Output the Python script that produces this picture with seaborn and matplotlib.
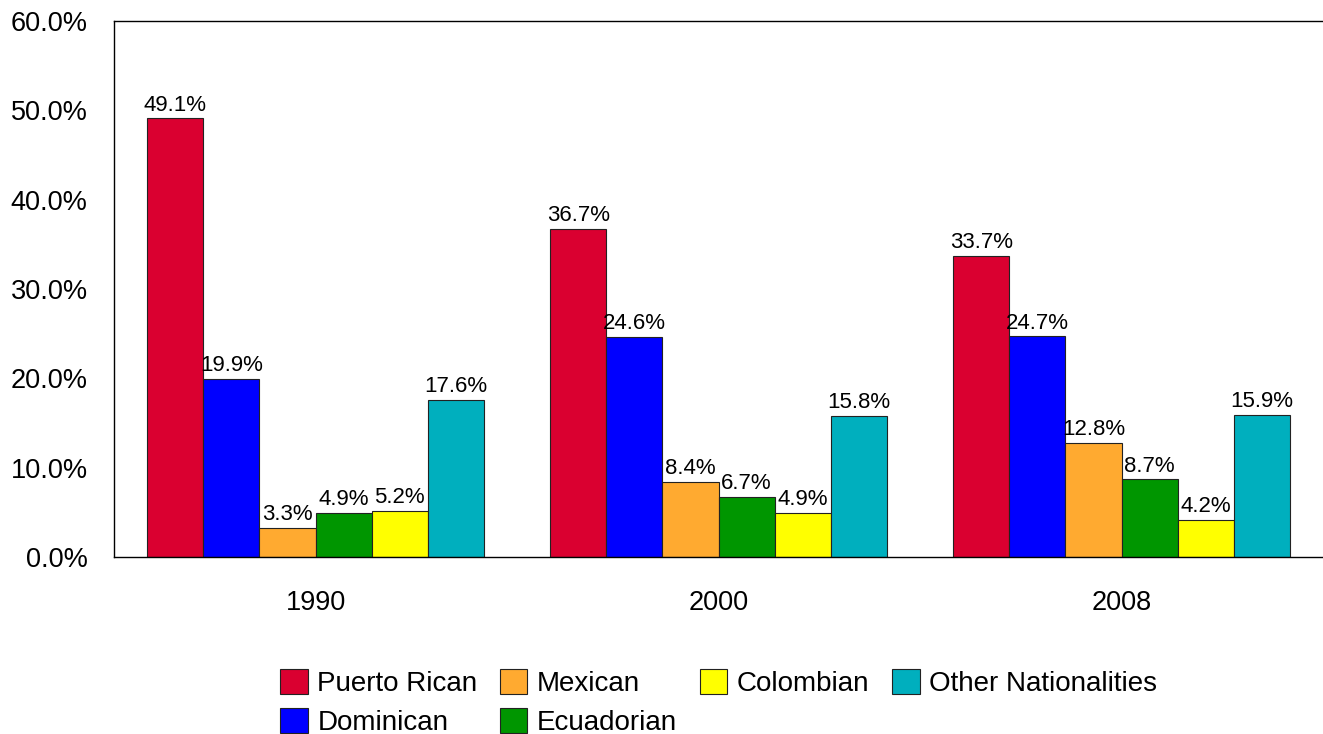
import pandas as pd
import numpy as np
import seaborn as sns
import matplotlib.pyplot as plt
from matplotlib.ticker import FuncFormatter

years = ['1990', '2000', '2008']
groups = ['Puerto Rican', 'Dominican', 'Mexican', 'Ecuadorian', 'Colombian', 'Other Nationalities']
puerto_rican = [49.1, 36.7, 33.7]
dominican = [19.9, 24.6, 24.7]
mexican = [3.3, 8.4, 12.8]
ecuadorian = [4.9, 6.7, 8.7]
colombian = [5.2, 4.9, 4.2]
other = [17.6, 15.8, 15.9]
colors = ['#DA0030', '#0000FF', '#FFAA30', '#009600', '#FFFF00', '#00AFBE']

series = [puerto_rican, dominican, mexican, ecuadorian, colombian, other]
rows = []
for g, vals in zip(groups, series):
    for yr, v in zip(years, vals):
        rows.append({'Year': yr, 'Group': g, 'Share': v})
df = pd.DataFrame(rows)

sns.set_style('white')
plt.rcParams['font.family'] = ['Liberation Sans', 'DejaVu Sans']
plt.rcParams['text.color'] = 'black'
plt.rcParams['xtick.color'] = 'black'
plt.rcParams['ytick.color'] = 'black'

fig = plt.figure(figsize=(13.23, 7.34), dpi=100)
ax = fig.add_axes([0.0862, 0.2411, 0.9138, 0.7303])

sns.barplot(data=df, x='Year', y='Share', hue='Group', hue_order=groups,
            order=years, palette=colors, width=0.835, gap=0,
            edgecolor='#222222', linewidth=0.8, saturation=1, ax=ax)

for cont in ax.containers:
    ax.bar_label(cont, fmt='%.1f%%', padding=2, fontsize=16, color='black')

ax.set_ylim(0, 60)
ax.set_xlim(-0.5, 2.5)
ax.set_yticks(np.arange(0, 61, 10))
ax.yaxis.set_major_formatter(FuncFormatter(lambda v, p: f'{v:.1f}%'))
ax.tick_params(axis='y', length=0, pad=19, labelsize=19.5)
ax.tick_params(axis='x', length=0, pad=24, labelsize=19.5)
ax.set_xlabel('')
ax.set_ylabel('')
for s in ['left', 'top', 'bottom']:
    ax.spines[s].set_color('black')
    ax.spines[s].set_linewidth(1)
ax.spines['right'].set_visible(False)

handles, labels = ax.get_legend_handles_labels()
ax.legend(handles, labels, loc='upper center', bbox_to_anchor=(0.5, -0.163),
          ncol=4, frameon=False, fontsize=20, handlelength=1.0, handleheight=1.0,
          handletextpad=0.35, columnspacing=0.8, labelspacing=0.4)

fig.savefig('out.png', dpi=100)
